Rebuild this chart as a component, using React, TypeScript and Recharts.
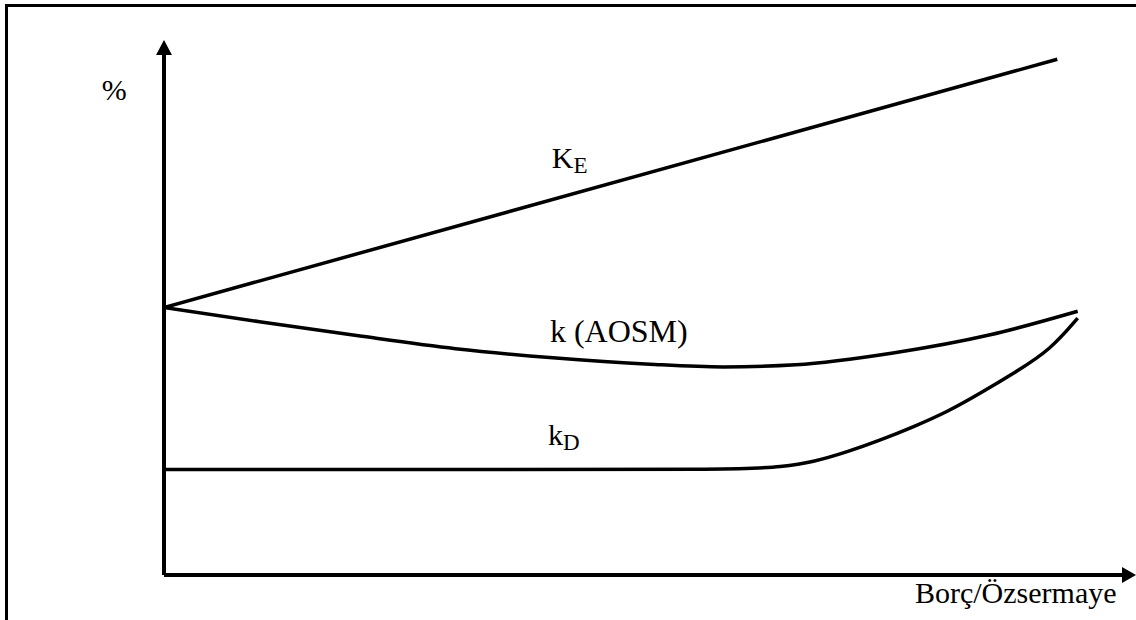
import React from "react";
import { ComposedChart, Line, XAxis, YAxis, ReferenceLine, ReferenceDot } from "recharts";

// Debt/Equity ratio (x) vs cost of capital % (y)
const costOfEquity = [
  { x: 0, y: 5.0 },
  { x: 9.19, y: 9.64 },
];

const wacc = [
  { x: 0, y: 5.0 },
  { x: 1, y: 4.73 },
  { x: 2, y: 4.47 },
  { x: 3, y: 4.23 },
  { x: 4, y: 4.06 },
  { x: 5, y: 3.94 },
  { x: 5.75, y: 3.89 },
  { x: 6.5, y: 3.93 },
  { x: 7.5, y: 4.15 },
  { x: 8.5, y: 4.49 },
  { x: 9.4, y: 4.93 },
];

const costOfDebt = [
  { x: 0, y: 1.97 },
  { x: 3.0, y: 1.97 },
  { x: 6.0, y: 1.97 },
  { x: 6.34, y: 2.02 },
  { x: 6.68, y: 2.11 },
  { x: 7.03, y: 2.3 },
  { x: 7.37, y: 2.52 },
  { x: 7.71, y: 2.77 },
  { x: 8.06, y: 3.05 },
  { x: 8.4, y: 3.4 },
  { x: 8.76, y: 3.79 },
  { x: 9.12, y: 4.21 },
  { x: 9.4, y: 4.8 },
];

const xDomain: [number, number] = [0, 10];
const yDomain: [number, number] = [0, 10];

const yAxisTitle = "%";
const xAxisTitle = "Borç/Özsermaye";

const FONT = "'Liberation Serif', 'Times New Roman', serif";
const STROKE = 3.5;

const ArrowRight = (p: any) => (
  <polygon
    points={`${p.cx},${p.cy} ${p.cx - 14},${p.cy - 8} ${p.cx - 14},${p.cy + 8}`}
    fill="#000"
  />
);
const ArrowUp = (p: any) => (
  <polygon
    points={`${p.cx},${p.cy} ${p.cx - 8},${p.cy + 15} ${p.cx + 8},${p.cy + 15}`}
    fill="#000"
  />
);

const makeLabel = (main: string, sub?: string, anchor: string = "start", size = 30) => (p: any) => (
  <text
    x={p.cx}
    y={p.cy}
    fontFamily={FONT}
    fontSize={size}
    fill="#000"
    textAnchor={anchor}
  >
    {main}
    {sub ? (
      <tspan fontSize={23} dy={5}>
        {sub}
      </tspan>
    ) : null}
  </text>
);

export default function App() {
  return (
    <div
      style={{
        position: "absolute",
        left: 0,
        top: 0,
        width: 1136,
        height: 620,
        overflow: "hidden",
        background: "#fff",
      }}
    >
      <div
        style={{
          position: "absolute",
          left: 5,
          top: 4,
          width: 2000,
          height: 2000,
          border: "3px solid #000",
          boxSizing: "border-box",
        }}
      />
      <div style={{ position: "absolute", left: 0, top: 0 }}>
        <ComposedChart
          width={1136}
          height={620}
          margin={{ top: 40, right: 0, bottom: 45, left: 164 }}
        >
          <XAxis type="number" dataKey="x" domain={xDomain} hide allowDataOverflow />
          <YAxis type="number" dataKey="y" domain={yDomain} hide allowDataOverflow />

          <ReferenceLine
            segment={[{ x: 0, y: 0 }, { x: 9.9, y: 0 }]}
            stroke="#000"
            strokeWidth={4}
            ifOverflow="visible"
          />
          <ReferenceLine
            segment={[{ x: 0, y: 0 }, { x: 0, y: 9.85 }]}
            stroke="#000"
            strokeWidth={4}
            ifOverflow="visible"
          />
          <ReferenceDot x={10} y={0} r={0} shape={ArrowRight} ifOverflow="visible" />
          <ReferenceDot x={0} y={10} r={0} shape={ArrowUp} ifOverflow="visible" />

          <Line
            data={costOfEquity}
            dataKey="y"
            type="linear"
            stroke="#000"
            strokeWidth={STROKE}
            dot={false}
            isAnimationActive={false}
          />
          <Line
            data={wacc}
            dataKey="y"
            type="monotone"
            stroke="#000"
            strokeWidth={STROKE}
            dot={false}
            isAnimationActive={false}
          />
          <Line
            data={costOfDebt}
            dataKey="y"
            type="basis"
            stroke="#000"
            strokeWidth={STROKE}
            dot={false}
            isAnimationActive={false}
          />

          <ReferenceDot x={-0.64} y={8.88} r={0} shape={makeLabel(yAxisTitle)} ifOverflow="visible" />
          <ReferenceDot x={9.8} y={-0.52} r={0} shape={makeLabel(xAxisTitle, undefined, "end")} ifOverflow="visible" />
          <ReferenceDot x={3.99} y={7.61} r={0} shape={makeLabel("K", "E")} ifOverflow="visible" />
          <ReferenceDot x={3.97} y={4.35} r={0} shape={makeLabel("k (AOSM)", undefined, "start", 32)} ifOverflow="visible" />
          <ReferenceDot x={3.95} y={2.43} r={0} shape={makeLabel("k", "D")} ifOverflow="visible" />
        </ComposedChart>
      </div>
    </div>
  );
}
